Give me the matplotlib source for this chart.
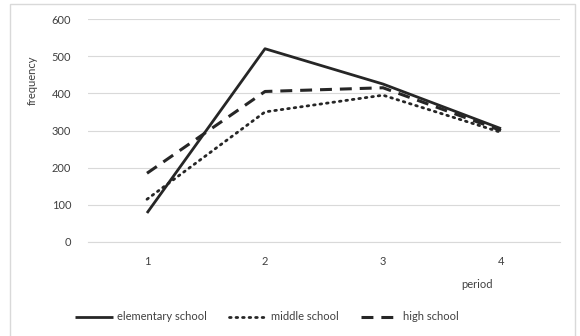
import matplotlib
matplotlib.use("Agg")
import matplotlib.pyplot as plt
from matplotlib.patches import Rectangle

periods = ["1", "2", "3", "4"]
elementary = [78, 520, 425, 305]
middle = [115, 350, 395, 295]
high = [185, 405, 415, 300]
series_names = ["elementary school", "middle school", "high school"]

plt.rcParams['font.family'] = ['Lato', 'DejaVu Sans']
plt.rcParams['font.size'] = 8

W, H = 580, 336
fig = plt.figure(figsize=(W / 100, H / 100), dpi=100)
ax = fig.add_axes([88 / W, 1 - 242 / H, 472 / W, 223 / H])

x = list(range(1, len(periods) + 1))
ax.plot(x, elementary, color='#262626', lw=2.0, solid_capstyle='butt', label=series_names[0])
ax.plot(x, middle, color='#262626', lw=2.0, linestyle=(0, (0.6, 1.75)), dash_capstyle='round', label=series_names[1])
ax.plot(x, high, color='#262626', lw=2.2, linestyle=(0, (3.9, 2.6)), label=series_names[2])

ax.set_xlim(0.5, len(periods) + 0.5)
ax.set_ylim(0, 600)
ax.set_yticks(range(0, 601, 100))
ax.set_xticks(x)
ax.set_xticklabels(periods)
ax.grid(axis='y', color='#d9d9d9', lw=0.8)
ax.set_axisbelow(True)
for s in ax.spines.values():
    s.set_visible(False)
ax.spines['bottom'].set_visible(True)
ax.spines['bottom'].set_color('#d9d9d9')
ax.tick_params(length=0, colors='#404040', labelsize=8)
ax.tick_params(axis='y', pad=12)
ax.tick_params(axis='x', pad=10)

fig.text(32 / W, 1 - 80 / H, "frequency", rotation=90, ha='center', va='center', color='#404040', fontsize=8)
fig.text(477 / W, 1 - 285 / H, "period", ha='center', va='center', color='#404040', fontsize=8)

fig.legend(loc='center', bbox_to_anchor=(267 / W, 1 - 317 / H), ncol=3, frameon=False,
           fontsize=8, handlelength=3.4, columnspacing=2.0, handletextpad=0.4, labelcolor='#404040')

fig.patches.append(Rectangle((10 / W, -0.05), 565 / W, 1.05 - 4 / H, transform=fig.transFigure,
                             fill=False, edgecolor='#d9d9d9', lw=1.0))

fig.savefig("out.png", dpi=100, facecolor='white')
